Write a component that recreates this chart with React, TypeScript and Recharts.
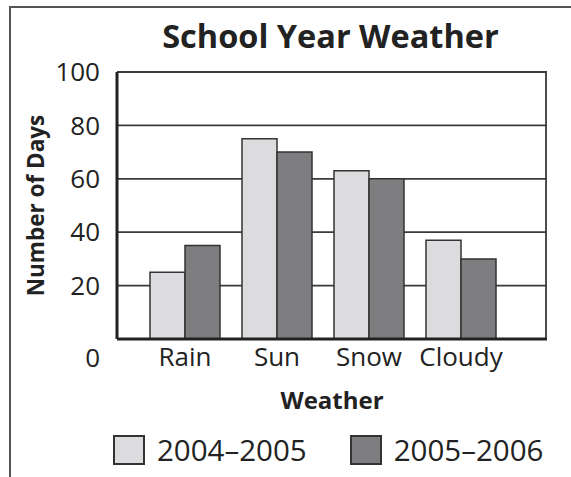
import React from "react";
import {
  BarChart,
  Bar,
  XAxis,
  YAxis,
  CartesianGrid,
  Legend,
} from "recharts";

const categories = ["Rain", "Sun", "Snow", "Cloudy"];
const days2004 = [25, 75, 63, 37];
const days2005 = [35, 70, 60, 30];
const yTicks = [0, 20, 40, 60, 80, 100];
const seriesNames = ["2004\u20132005", "2005\u20132006"];

const FONT = "'Open Sans', 'Noto Sans', sans-serif";
const LIGHT = "#dcdcde";
const DARK = "#7e7e81";
const INK = "#222";

const data = categories.map((name, i) => ({
  name,
  a: days2004[i],
  b: days2005[i],
}));

const YTick = (props: any) => {
  const { x, y, payload } = props;
  // the "0" label sits under the baseline in the original
  const shift = payload.value === 0 ? 19 : 0;
  return (
    <text
      x={x}
      y={y + shift}
      dy="0.355em"
      textAnchor="end"
      fontFamily={FONT}
      fontSize={26}
      fill={INK}
    >
      {payload.value}
    </text>
  );
};

const LegendBox = () => (
  <div style={{ display: "flex", alignItems: "center", fontFamily: FONT }}>
    {seriesNames.map((n, i) => (
      <div
        key={n}
        style={{
          display: "flex",
          alignItems: "center",
          marginRight: i === 0 ? 43 : 0,
        }}
      >
        <div
          style={{
            width: 28,
            height: 26,
            border: "2px solid #333",
            background: i === 0 ? LIGHT : DARK,
            marginRight: 12,
          }}
        />
        <span style={{ fontSize: 29.5, color: INK, lineHeight: "30px" }}>{n}</span>
      </div>
    ))}
  </div>
);

export default function App() {
  return (
    <div
      style={{
        position: "absolute",
        left: 0,
        top: 0,
        width: 571,
        height: 477,
        background: "#fff",
        overflow: "hidden",
      }}
    >
      <div
        style={{
          position: "absolute",
          left: 9,
          top: 6,
          width: 580,
          height: 500,
          borderTop: "2px solid #555",
          borderLeft: "2px solid #555",
        }}
      />
      <div
        style={{
          position: "absolute",
          left: 130,
          top: 20,
          width: 401,
          textAlign: "center",
          fontFamily: FONT,
          fontWeight: 700,
          fontSize: 32.5,
          lineHeight: "31px",
          color: INK,
          whiteSpace: "nowrap",
        }}
      >
        School Year Weather
      </div>
      <BarChart
        width={571}
        height={477}
        data={data}
        margin={{ top: 72, right: 24, left: 17, bottom: 44 }}
        barCategoryGap={11}
        barGap={0}
        style={{ position: "absolute", left: 0, top: 0 }}
      >
        <CartesianGrid
          vertical={true}
          verticalCoordinatesGenerator={({ offset }: any) => [
            offset.left + offset.width - 1,
          ]}
          stroke="#3a3a3a"
          strokeWidth={1.8}
          strokeOpacity={1}
        />
        <XAxis
          dataKey="name"
          height={94}
          padding={{ left: 22, right: 40 }}
          axisLine={{ stroke: INK, strokeWidth: 3 }}
          tickLine={false}
          tickSize={6}
          tickMargin={3}
          tick={{ fontFamily: FONT, fontSize: 26, fill: INK }}
          label={{
            value: "Weather",
            position: "insideTop",
            offset: 53,
            style: {
              fontFamily: FONT,
              fontWeight: 700,
              fontSize: 24,
              fill: INK,
            },
          }}
        />
        <YAxis
          width={100}
          domain={[0, 100]}
          ticks={yTicks}
          interval={0}
          axisLine={{ stroke: INK, strokeWidth: 3 }}
          tickLine={false}
          tickSize={6}
          tickMargin={11}
          tick={<YTick />}
          label={{
            value: "Number of Days",
            angle: -90,
            position: "insideLeft",
            offset: 19,
            style: {
              textAnchor: "middle",
              fontFamily: FONT,
              fontWeight: 700,
              fontSize: 22.5,
              fill: INK,
            },
          }}
        />
        <Legend
          layout="vertical"
          verticalAlign="middle"
          align="center"
          content={<LegendBox />}
          wrapperStyle={{ left: 113, top: 435, width: 460, height: 34 }}
        />
        <Bar
          dataKey="a"
          name={seriesNames[0]}
          fill={LIGHT}
          stroke="#333"
          strokeWidth={1.5}
          isAnimationActive={false}
        />
        <Bar
          dataKey="b"
          name={seriesNames[1]}
          fill={DARK}
          stroke="#333"
          strokeWidth={1.5}
          isAnimationActive={false}
        />
      </BarChart>
    </div>
  );
}
